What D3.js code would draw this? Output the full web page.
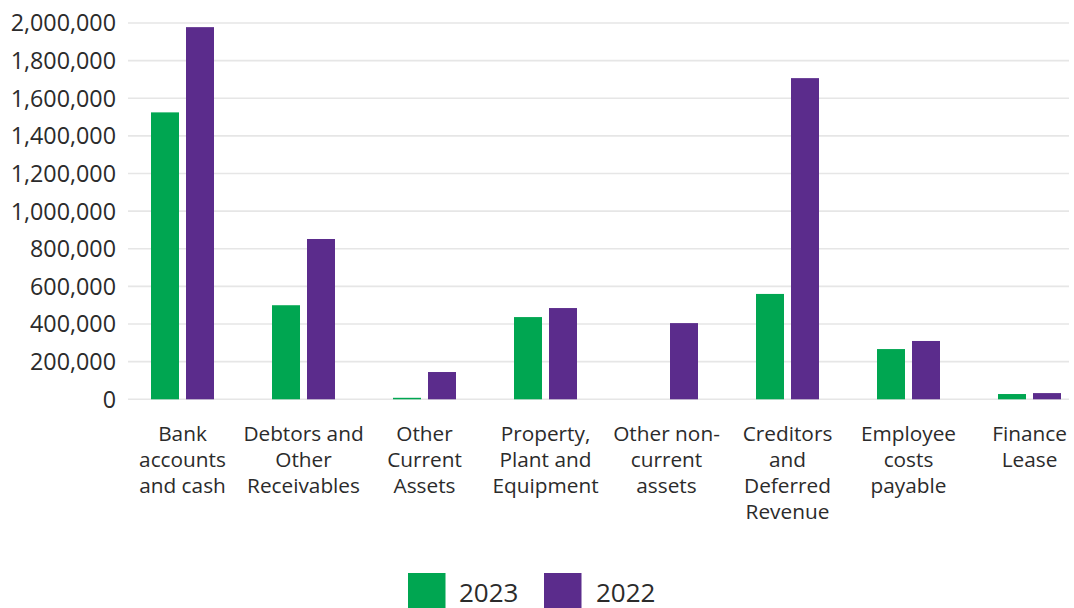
<!DOCTYPE html>
<html>
<head>
<meta charset="utf-8">
<script src="https://cdn.jsdelivr.net/npm/d3@7"></script>
<style>
  html, body { margin: 0; padding: 0; background: #ffffff; }
  svg { display: block; font-family: "Open Sans", "Noto Sans", sans-serif; }
</style>
</head>
<body>
<svg id="chart" width="1074" height="608"></svg>
<script>
// Balance sheet items, two financial years
const categories = [
  "Bank accounts and cash",
  "Debtors and Other Receivables",
  "Other Current Assets",
  "Property, Plant and Equipment",
  "Other non-current assets",
  "Creditors and Deferred Revenue",
  "Employee costs payable",
  "Finance Lease"
];
// Wrapped axis labels, one array of lines per category
const categoryLines = [
  ["Bank", "accounts", "and cash"],
  ["Debtors and", "Other", "Receivables"],
  ["Other", "Current", "Assets"],
  ["Property,", "Plant and", "Equipment"],
  ["Other non-", "current", "assets"],
  ["Creditors", "and", "Deferred", "Revenue"],
  ["Employee", "costs", "payable"],
  ["Finance", "Lease"]
];
const seriesNames = ["2023", "2022"];
const values2023 = [1525000, 500000, 8000, 437000, 0, 560000, 267000, 28000];
const values2022 = [1978000, 852000, 145000, 485000, 405000, 1707000, 310000, 33000];
const yTicks = [0, 200000, 400000, 600000, 800000, 1000000, 1200000, 1400000, 1600000, 1800000, 2000000];
const seriesColors = ["#00a651", "#5b2c8c"];

const svg = d3.select("#chart");
const textColor = "#2b2b2b";
const gridColor = "#e6e6e6";

const y = d3.scaleLinear().domain([0, 2000000]).range([399.3, 23]);
const x0 = d3.scaleBand().domain(categories).range([122, 1090]).paddingInner(0).paddingOuter(0);
const groupWidth = 63;
const x1 = d3.scaleBand().domain(seriesNames)
  .range([x0.bandwidth() / 2 - groupWidth / 2, x0.bandwidth() / 2 + groupWidth / 2])
  .paddingInner(0.2).paddingOuter(0);
const color = d3.scaleOrdinal().domain(seriesNames).range(seriesColors);

// Gridlines
const gridLeft = 128, gridRight = 1069;
svg.append("g")
  .selectAll("line")
  .data(yTicks)
  .join("line")
  .attr("x1", gridLeft).attr("x2", gridRight)
  .attr("y1", d => y(d)).attr("y2", d => y(d))
  .attr("stroke", gridColor)
  .attr("stroke-width", 1.6);

// Y axis labels
const yAxis = d3.axisLeft(y).tickValues(yTicks).tickFormat(d3.format(",")).tickSize(0).tickPadding(0);
const yg = svg.append("g").attr("transform", "translate(116,0)").call(yAxis);
yg.select(".domain").remove();
yg.selectAll("text")
  .attr("font-family", "'Open Sans', sans-serif")
  .attr("font-size", 23.3)
  .attr("fill", textColor)
  .attr("dy", "0.34em");

// Bars
const rows = categories.map((c, i) => ({ category: c, values: [values2023[i], values2022[i]] }));
const groups = svg.append("g")
  .selectAll("g")
  .data(rows)
  .join("g")
  .attr("transform", d => `translate(${x0(d.category)},0)`);

groups.selectAll("rect")
  .data(d => seriesNames.map((s, j) => ({ series: s, value: d.values[j] })))
  .join("rect")
  .attr("x", d => x1(d.series))
  .attr("width", x1.bandwidth())
  .attr("y", d => y(d.value))
  .attr("height", d => y(0) - y(d.value))
  .attr("fill", d => color(d.series));

// Category labels
const xAxis = d3.axisBottom(x0).tickSize(0).tickFormat(() => "");
const xg = svg.append("g").attr("transform", "translate(0,399)").call(xAxis);
xg.select(".domain").remove();
xg.selectAll(".tick text").each(function (d, i) {
  const t = d3.select(this)
    .attr("font-family", "'Open Sans', sans-serif")
    .attr("font-size", 20.8)
    .attr("fill", textColor)
    .attr("y", 42)
    .attr("dy", 0)
    .text(null);
  categoryLines[i].forEach((line, k) => {
    t.append("tspan").attr("x", 0).attr("y", 42 + k * 26).text(line);
  });
});

// Legend
const legend = svg.append("g");
const legendItems = [
  { name: seriesNames[0], sx: 408, tx: 459 },
  { name: seriesNames[1], sx: 544, tx: 596 }
];
legend.selectAll("rect")
  .data(legendItems)
  .join("rect")
  .attr("x", d => d.sx)
  .attr("y", 573)
  .attr("width", 37.5)
  .attr("height", 40)
  .attr("fill", d => color(d.name));
legend.selectAll("text")
  .data(legendItems)
  .join("text")
  .attr("x", d => d.tx)
  .attr("y", 601.5)
  .attr("font-family", "'Open Sans', sans-serif")
  .attr("font-size", 26)
  .attr("fill", textColor)
  .text(d => d.name);
</script>
</body>
</html>
